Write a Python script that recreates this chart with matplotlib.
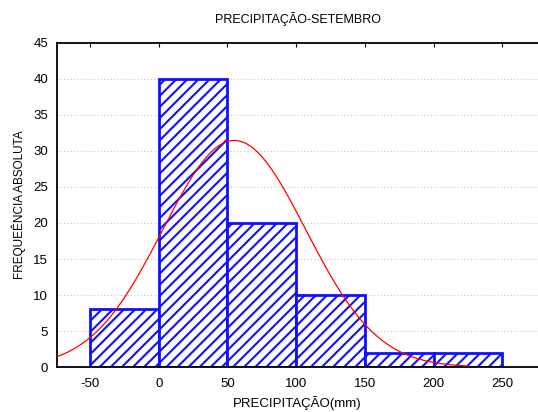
import numpy as np
import matplotlib.pyplot as plt

plt.rcParams['font.family'] = ['Liberation Sans', 'DejaVu Sans']
plt.rcParams['axes.unicode_minus'] = False
plt.rcParams['hatch.linewidth'] = 1.5
plt.rcParams['hatch.color'] = '#1010ff'

# histogram bins (mm) and absolute frequencies
bin_left = [-50, 0, 50, 100, 150, 200]
bin_width = 50
freq = [8, 40, 20, 10, 2, 2]

# fitted normal curve, parameters
curve_mean = 55
curve_sd = 52
curve_range = (-75, 225)

fig = plt.figure(figsize=(5.38, 4.12), dpi=100)
ax = fig.add_axes([0.106, 0.109, 0.894, 0.787])

ax.bar(bin_left, freq, width=bin_width, align='edge', color='white',
       edgecolor='#1010ff', hatch='///', linewidth=2, zorder=2)

xs = np.linspace(curve_range[0], curve_range[1], 300)
n = sum(freq)
ys = n * bin_width / (curve_sd * np.sqrt(2 * np.pi)) * np.exp(-0.5 * ((xs - curve_mean) / curve_sd) ** 2)
ax.plot(xs, ys, color='red', linewidth=0.9, zorder=3)

ax.set_xlim(-74, 276)
ax.set_ylim(0, 45)
ax.set_xticks([-50, 0, 50, 100, 150, 200, 250])
ax.set_yticks(range(0, 46, 5))
for y in range(5, 45, 5):
    ax.axhline(y, color='#c8c8c8', linestyle=(0, (1, 2)), linewidth=0.8, zorder=1)

ax.spines['right'].set_visible(False)
for s in ['left', 'top', 'bottom']:
    ax.spines[s].set_linewidth(1.3)
ax.tick_params(axis='x', top=True, bottom=False, direction='in', length=3,
               labelsize=9.5, pad=8)
ax.tick_params(axis='y', left=False, labelsize=9.5, pad=3)

ax.set_title('PRECIPITAÇÃO-SETEMBRO', fontsize=9, pad=14)
ax.set_xlabel('PRECIPITAÇÃO(mm)', fontsize=9.5, labelpad=4)
ax.set_ylabel('FREQUEÊNCIA ABSOLUTA', fontsize=8.5, labelpad=5)

plt.savefig('out.png', dpi=100)
